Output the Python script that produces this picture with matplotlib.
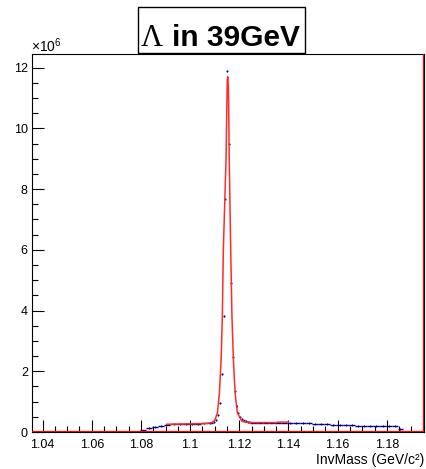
import matplotlib
matplotlib.use("Agg")
import matplotlib.pyplot as plt
from matplotlib.patches import Rectangle
from matplotlib.ticker import MultipleLocator, FixedLocator, FixedFormatter
import numpy as np

plt.rcParams['font.family'] = ['Liberation Sans', 'DejaVu Sans']
plt.rcParams['mathtext.fontset'] = 'custom'
plt.rcParams['mathtext.rm'] = 'Liberation Sans'
plt.rcParams['mathtext.it'] = 'Liberation Sans'

# ---------------- data (counts in units of 1e6) ----------------
bin_edges = [1.0795, 1.0820, 1.0845, 1.0870, 1.0895, 1.0920, 1.0945, 1.0970, 1.0995,
             1.1020, 1.1045, 1.1070, 1.1095,
             1.11025, 1.1110, 1.11175, 1.1125, 1.11325, 1.1140, 1.11475, 1.1155,
             1.11625, 1.1170, 1.11775, 1.1185, 1.11925, 1.1200, 1.12075, 1.1215,
             1.12225, 1.1230, 1.12375, 1.1245,
             1.1270, 1.1295, 1.1320, 1.1345, 1.1370, 1.1395, 1.1420, 1.1445, 1.1470,
             1.1495, 1.1520, 1.1545, 1.1570, 1.1595, 1.1620, 1.1645, 1.1670, 1.1695,
             1.1720, 1.1745, 1.1770, 1.1795, 1.1820, 1.1845, 1.1865]
counts = [0.05, 0.12, 0.17, 0.21, 0.245, 0.26, 0.265, 0.27, 0.27, 0.275, 0.28, 0.29,
          0.32, 0.40, 0.55, 0.95, 1.91, 3.82, 7.67, 11.88, 9.50, 4.90, 2.46, 1.36,
          0.86, 0.62, 0.50, 0.43, 0.38, 0.35, 0.33, 0.32,
          0.31, 0.31, 0.31, 0.31, 0.31, 0.31, 0.30, 0.30, 0.30, 0.29, 0.27, 0.26,
          0.26, 0.24, 0.23, 0.23, 0.23, 0.21, 0.20, 0.20, 0.20, 0.20, 0.20, 0.19, 0.10]

fit_x = [1.0905, 1.0950, 1.1000, 1.1040, 1.1070, 1.1088, 1.1100, 1.1111, 1.1119,
         1.1126, 1.1131, 1.1135, 1.1146, 1.1151, 1.1153, 1.1156, 1.1159, 1.1165,
         1.1170, 1.1176, 1.1183, 1.1192, 1.1210, 1.1225, 1.1260, 1.1300, 1.1352,
         1.1355, 1.1400]
fit_y = [0.255, 0.26, 0.27, 0.275, 0.285, 0.31, 0.38, 0.63, 1.28,
         2.37, 3.82, 6.0, 8.96, 11.6, 11.7, 11.3, 8.96, 6.0,
         3.82, 2.37, 1.28, 0.63, 0.36, 0.32, 0.31, 0.31, 0.31,
         0.325, 0.325]

x_ticks = [1.04, 1.06, 1.08, 1.10, 1.12, 1.14, 1.16, 1.18]
x_tick_labels = ["1.04", "1.06", "1.08", "1.1", "1.12", "1.14", "1.16", "1.18"]
y_ticks = [0, 2, 4, 6, 8, 10, 12]
y_tick_labels = ["0", "2", "4", "6", "8", "10", "12"]

title_sym = "\u039b"
title_rest = "in 39GeV"
x_title = "InvMass (GeV/c\u00b2)"

# ---------------- figure ----------------
W, H = 426, 469
fig = plt.figure(figsize=(W / 100, H / 100), dpi=100)
ax = fig.add_axes([32 / W, 37 / H, 392 / W, 378 / H])
ax.set_xlim(1.0357, 1.1951)
ax.set_ylim(0, 12.45)

edges = np.array(bin_edges)
vals = np.array(counts)
navy = '#000080'
ax.hlines(vals, edges[:-1], edges[1:], colors=navy, lw=1.0, zorder=3)
centers = 0.5 * (edges[:-1] + edges[1:])
ax.vlines(centers, vals - 0.03, vals + 0.03, colors=navy, lw=0.7, zorder=3)

ax.plot(fit_x, fit_y, color='#ff2a2a', lw=1.1, zorder=4)
ax.axhline(0, color='red', lw=1.6, zorder=5)
ax.axvline(1.1949, color='red', lw=1.6, zorder=5)

# ticks
ax.xaxis.set_major_locator(FixedLocator(x_ticks))
ax.xaxis.set_major_formatter(FixedFormatter(x_tick_labels))
ax.xaxis.set_minor_locator(MultipleLocator(0.005))
ax.yaxis.set_major_locator(FixedLocator(y_ticks))
ax.yaxis.set_major_formatter(FixedFormatter(y_tick_labels))
ax.yaxis.set_minor_locator(MultipleLocator(0.5))
ax.tick_params(axis='both', which='both', direction='in', top=False, right=False,
               labelsize=9, color='black', width=0.8)
ax.tick_params(axis='x', which='major', length=8.5, pad=5)
ax.tick_params(axis='x', which='minor', length=4.2)
ax.tick_params(axis='y', which='major', length=8.5, pad=3)
ax.tick_params(axis='y', which='minor', length=4.2)
for s in ax.spines.values():
    s.set_linewidth(0.8)
    s.set_color('black')

fig.text(424 / W, 1 - 464 / H, x_title, ha='right', va='baseline', fontsize=10)
fig.text(31 / W, 1 - 52 / H, r'$\times10^{6}$', ha='left', va='baseline', fontsize=10)

# title box
fig.patches.append(Rectangle((137.7 / W, 1 - 52.7 / H), 167.3 / W, 45.4 / H,
                             transform=fig.transFigure, facecolor='white',
                             edgecolor='black', lw=1.0, zorder=10))
fig.text(141 / W, 1 - 46.5 / H, title_sym, ha='left', va='baseline', fontsize=22,
         family='Liberation Serif', zorder=11)
fig.text(172 / W, 1 - 46.5 / H, title_rest, ha='left', va='baseline', fontsize=21.5,
         fontweight='bold', zorder=11)

fig.savefig('out.png', dpi=100)
